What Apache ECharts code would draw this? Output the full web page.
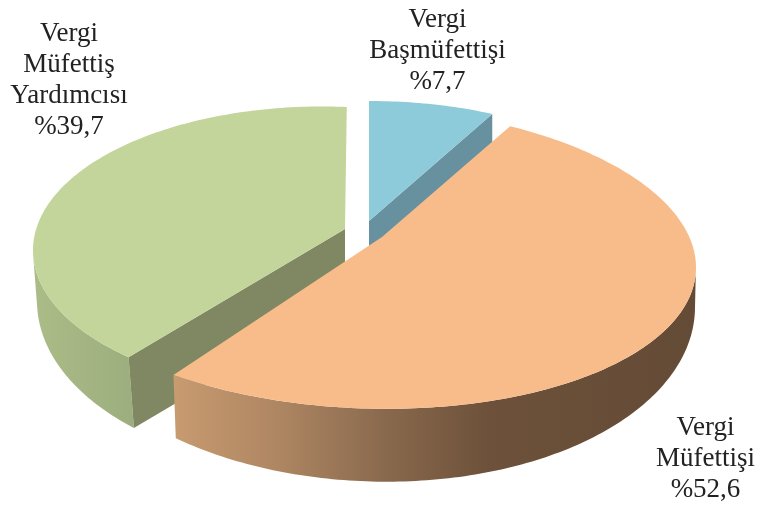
<!DOCTYPE html>
<html><head><meta charset="utf-8">
<style>html,body{margin:0;padding:0;background:#fff}#c{width:760px;height:505px}</style>
<script src="https://cdn.jsdelivr.net/npm/echarts@6/dist/echarts.min.js"></script>
</head><body><div id="c"></div>
<script>
const categories = ['Vergi Başmüfettişi', 'Vergi Müfettiş Yardımcısı', 'Vergi Müfettişi'];
const values = [7.7, 39.7, 52.6];
const labelLines = [
  ['Vergi', 'Başmüfettişi', '%7,7'],
  ['Vergi', 'Müfettiş', 'Yardımcısı', '%39,7'],
  ['Vergi', 'Müfettişi', '%52,6']
];
const startAngles = [0, 222, 26];

const looks = [
  { top: { x: 369, y: 214, a: 265, b: 113, k: 0 },
    apex: [369, 221], depth: 49,
    topColor: '#8ECBDA', innerColor: '#68919F',
    label: [437.5, 4] },
  { top: { x: 322, y: 250.3, a: 289, b: 143.8, k: 0 },
    bottom: { x: 322, y: 301, a: 285, b: 169, k: 0 },
    apex: [345, 229], innerEndX: 134,
    wall: { topFrom: 268, bottomFrom: 268, bottomTo: 221.3 },
    topColor: '#C3D59A', innerColor: '#7F8862',
    wallStops: [[0, '#ABBC88'], [1, '#9DAE7E']],
    label: [69, 18] },
  { top: { x: 365, y: 257.5, a: 331, b: 151, k: 0.03 },
    bottom: { x: 375, y: 300.6, a: 320, b: 181, k: 0.02 },
    apex: [382, 237],
    wall: { topFrom: 92, bottomFrom: 90, bottomTo: 218.5 },
    topColor: '#F7BC8A',
    wallStops: [[0, '#C89B70'], [0.2, '#AE8662'], [0.4, '#8A6A4E'], [0.6, '#6D513A'], [1, '#644B36']],
    label: [705.5, 412] }
];

function pt(e, deg) {
  const t = deg * Math.PI / 180, s = Math.sin(t), c = Math.cos(t);
  return [e.x + e.a * s, e.y - e.b * c + e.k * e.a * s];
}
function arc(e, from, to) {
  const n = Math.max(2, Math.ceil(Math.abs(to - from))), out = [];
  for (let i = 0; i <= n; i++) out.push(pt(e, from + (to - from) * i / n));
  return out;
}

function renderItem(params, api) {
  const i = params.dataIndex, v = api.value(0), L = looks[i];
  const from = startAngles[i], to = from + v * 3.6;
  const kids = [];
  const p1 = pt(L.top, to);
  if (L.wall) {
    const w = L.wall;
    const topArc = w.topFrom > 180 ? arc(L.top, w.topFrom, from) : arc(L.top, w.topFrom, to);
    const botArc = arc(L.bottom, w.bottomTo, w.bottomFrom);
    kids.push({ type: 'polygon', shape: { points: topArc.concat(botArc) },
      style: { fill: { type: 'linear', x: 0, y: 0, x2: 1, y2: 0,
        colorStops: L.wallStops.map(s => ({ offset: s[0], color: s[1] })) } } });
  }
  if (L.innerColor) {
    let pts;
    if (L.bottom) {
      const c = pt(L.top, from), b = pt(L.bottom, L.wall.bottomTo);
      const slope = (L.apex[1] - c[1]) / (L.apex[0] - c[0]);
      pts = [c, L.apex, [L.apex[0], b[1] + slope * (L.apex[0] - b[0])], b];
    } else {
      pts = [L.apex, p1, [p1[0], p1[1] + L.depth], [L.apex[0], L.apex[1] + L.depth]];
    }
    kids.push({ type: 'polygon', shape: { points: pts }, style: { fill: L.innerColor } });
  }
  kids.push({ type: 'polygon', shape: { points: arc(L.top, from, to).concat([L.apex]) },
    style: { fill: L.topColor } });
  kids.push({ type: 'text', z2: 10, style: {
    x: L.label[0], y: L.label[1], text: labelLines[i].join('\n'),
    align: 'center', verticalAlign: 'top',
    font: '27px "Liberation Serif"', lineHeight: 31, fill: '#222' } });
  return { type: 'group', children: kids };
}

const chart = echarts.init(document.getElementById('c'), null, { renderer: 'canvas' });
chart.setOption({
  animation: false,
  backgroundColor: '#fff',
  series: [{
    type: 'custom', coordinateSystem: 'none', silent: true,
    renderItem,
    data: categories.map((n, i) => ({ name: n, value: [values[i]] }))
  }]
});
</script></body></html>
